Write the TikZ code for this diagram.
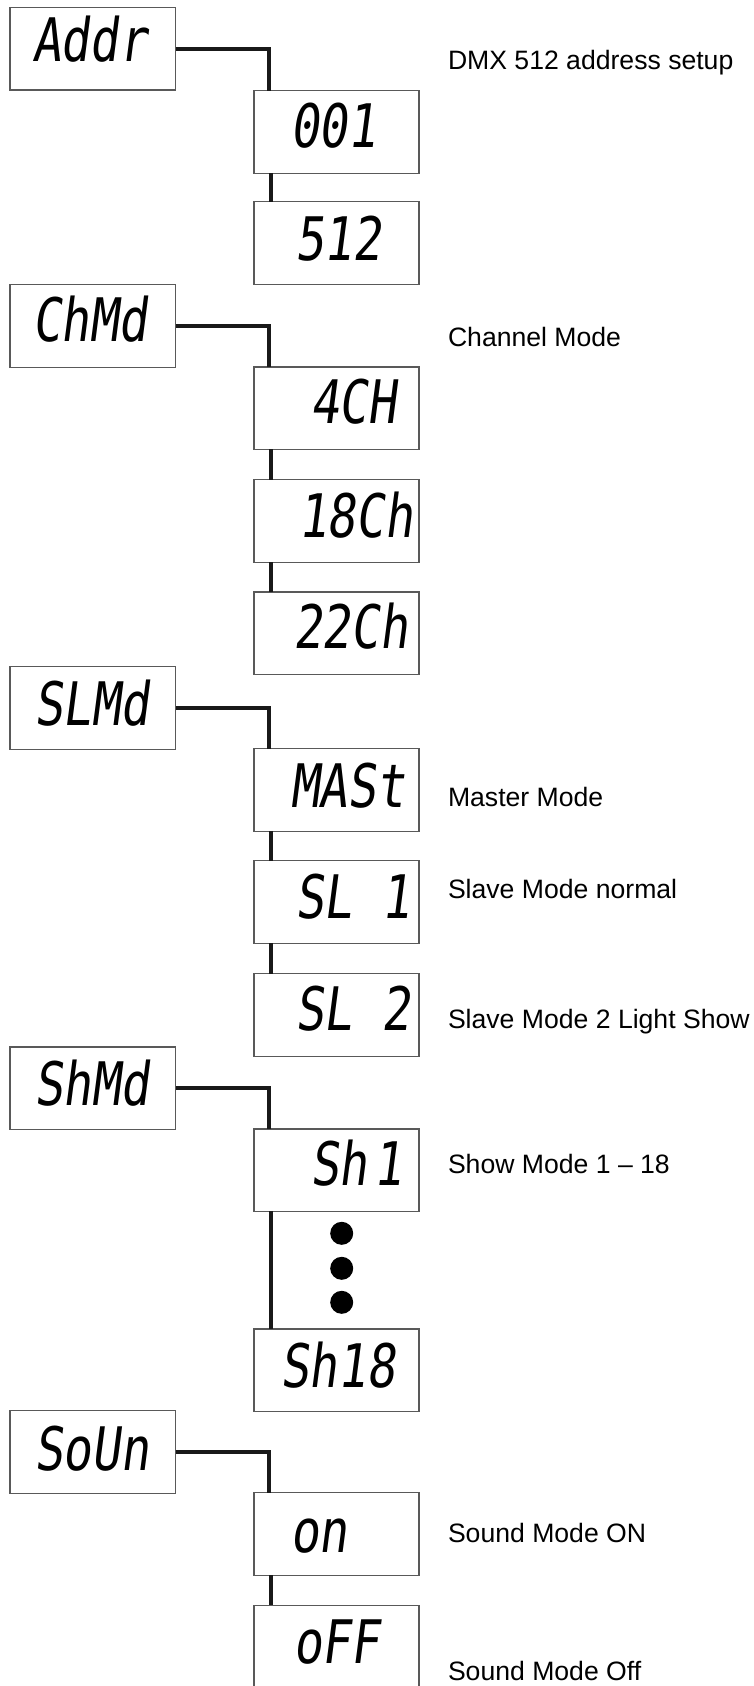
\documentclass[tikz,border=0pt]{standalone}
\usepackage{fontspec}
\setmainfont{Liberation Sans}
\newfontfamily\lcdfont[FakeStretch=0.8,FakeSlant=0.13]{DejaVu Sans Mono}
\definecolor{boxgray}{gray}{0.35}
\definecolor{linecol}{gray}{0.1}
\tikzset{
  lbox/.style={rectangle, draw=boxgray, line width=1.2pt, minimum width=165.5pt, minimum height=82.5pt, inner sep=0pt, outer sep=0pt},
  rbox/.style={lbox, minimum width=165pt},
  lcd/.style={anchor=base west, inner sep=0pt, outer sep=0pt, font=\lcdfont\fontsize{60}{60}\selectfont},
  lbl/.style={anchor=base west, inner sep=0pt, outer sep=0pt, font=\fontsize{26.6}{30}\selectfont},
  conn/.style={draw=linecol, line width=3.8pt},
  dotc/.style={circle, fill=black, minimum size=23pt, inner sep=0pt}
}
\begin{document}
\begin{tikzpicture}[x=1pt,y=-1pt]
\useasboundingbox (0,0) rectangle (754,1686);
% left boxes
\node[lbox] (addr) at (92.75,48.7) {};
\node[lbox] (chmd) at (92.75,326) {};
\node[lbox] (slmd) at (92.75,707.9) {};
\node[lbox] (shmd) at (92.75,1088.2) {};
\node[lbox] (soun) at (92.75,1452) {};
% right boxes
\node[rbox] (a001) at (336.5,131.9) {};
\node[rbox] (a512) at (336.5,243) {};
\node[rbox] (c4) at (336.5,408.2) {};
\node[rbox] (c18) at (336.5,521) {};
\node[rbox] (c22) at (336.5,633.2) {};
\node[rbox] (mast) at (336.5,789.9) {};
\node[rbox] (sl1) at (336.5,901.9) {};
\node[rbox] (sl2) at (336.5,1014.9) {};
\node[rbox] (sh1) at (336.5,1170.2) {};
\node[rbox] (sh18) at (336.5,1370.2) {};
\node[rbox] (on) at (336.5,1534) {};
\node[rbox] (off) at (336.5,1646.5) {};
% display texts
\node[lcd] (taddr) at (32,62) {Addr};
\node[lcd] (tchmd) at (32,341.7) {ChMd};
\node[lcd] (tslmd) at (34,725) {SLMd};
\node[lcd] (tshmd) at (34,1105) {ShMd};
\node[lcd] (tsoun) at (34,1470) {SoUn};
\node[lcd] (t001) at (290,147) {001};
\node[lcd] (t512) at (295,260) {512};
\node[lcd] (t4) at (310,423) {4CH};
\node[lcd] (t18) at (298,537) {18Ch};
\node[lcd] (t22) at (293,648) {22Ch};
\node[lcd] (tmast) at (290,807) {MASt};
\node[lcd] (tsl1) at (295,918) {SL\phantom{0}1};
\node[lcd] (tsl2) at (295,1030) {SL\phantom{0}2};
\node[lcd] (tsh1) at (310,1185) {Sh\kern6pt1};
\node[lcd] (tsh18) at (280,1387) {Sh18};
\node[lcd] (ton) at (290,1552) {on};
\node[lcd] (toff) at (293,1663) {oFF};
% descriptions
\node[lbl] (l1) at (448,70) {DMX 512 address setup};
\node[lbl] (l2) at (448,346) {Channel Mode};
\node[lbl] (l3) at (448,806) {Master Mode};
\node[lbl] (l4) at (448,898) {Slave Mode normal};
\node[lbl] (l5) at (448,1028) {Slave Mode 2 Light Show};
\node[lbl] (l6) at (448,1173) {Show Mode 1 -- 18};
\node[lbl] (l7) at (448,1542.5) {Sound Mode ON};
\node[lbl] (l8) at (448,1680) {Sound Mode Off};
% dots
\node[dotc] (d1) at (341.7,1233.3) {};
\node[dotc] (d2) at (341.7,1268.3) {};
\node[dotc] (d3) at (341.7,1302.3) {};
% connectors
\draw[conn] (addr.east) -| ([xshift=15pt]a001.north west);
\draw[conn] (chmd.east) -| ([xshift=15pt]c4.north west);
\draw[conn] (slmd.east) -| ([xshift=15pt]mast.north west);
\draw[conn] (shmd.east) -| ([xshift=15pt]sh1.north west);
\draw[conn] (soun.east) -| ([xshift=15pt]on.north west);
\draw[conn] ([xshift=17pt]a001.south west) -- ([xshift=17pt]a512.north west);
\draw[conn] ([xshift=17pt]c4.south west) -- ([xshift=17pt]c18.north west);
\draw[conn] ([xshift=17pt]c18.south west) -- ([xshift=17pt]c22.north west);
\draw[conn] ([xshift=17pt]mast.south west) -- ([xshift=17pt]sl1.north west);
\draw[conn] ([xshift=17pt]sl1.south west) -- ([xshift=17pt]sl2.north west);
\draw[conn] ([xshift=17pt]sh1.south west) -- ([xshift=17pt]sh18.north west);
\draw[conn] ([xshift=17pt]on.south west) -- ([xshift=17pt]off.north west);
\end{tikzpicture}
\end{document}
